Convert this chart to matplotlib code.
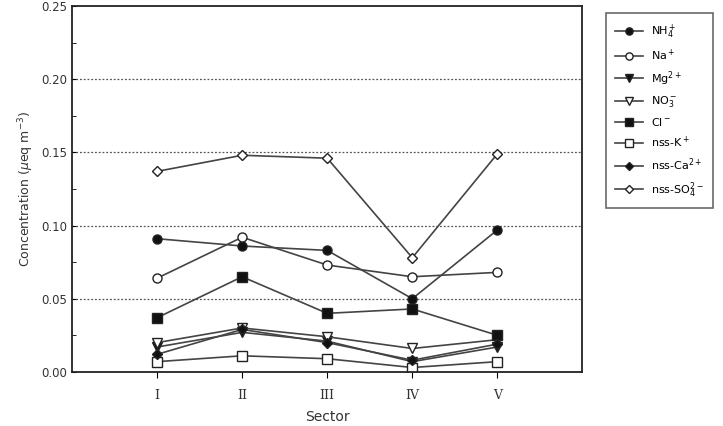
import matplotlib
matplotlib.use("Agg")
import matplotlib.pyplot as plt
from matplotlib.ticker import MultipleLocator

sectors = ["I", "II", "III", "IV", "V"]
nh4 = [0.091, 0.086, 0.083, 0.050, 0.097]
na = [0.064, 0.092, 0.073, 0.065, 0.068]
mg = [0.017, 0.027, 0.021, 0.007, 0.017]
no3 = [0.020, 0.030, 0.024, 0.016, 0.022]
cl = [0.037, 0.065, 0.040, 0.043, 0.025]
nss_k = [0.007, 0.011, 0.009, 0.003, 0.007]
nss_ca = [0.012, 0.029, 0.020, 0.008, 0.019]
nss_so4 = [0.137, 0.148, 0.146, 0.078, 0.149]

series = [
    (nh4, "o", "#111111", r"NH$_4^+$"),
    (na, "o", "white", r"Na$^+$"),
    (mg, "v", "#111111", r"Mg$^{2+}$"),
    (no3, "v", "white", r"NO$_3^-$"),
    (cl, "s", "#111111", r"Cl$^-$"),
    (nss_k, "s", "white", r"nss-K$^+$"),
    (nss_ca, "D", "#111111", r"nss-Ca$^{2+}$"),
    (nss_so4, "D", "white", r"nss-SO$_4^{2-}$"),
]

fig = plt.figure(figsize=(7.23, 4.26), dpi=100)
ax = fig.add_axes([0.0996, 0.127, 0.706, 0.859])
x = list(range(1, len(sectors) + 1))
for vals, m, fc, lab in series:
    ms = 5.5 if m == "D" else 6.5
    ax.plot(x, vals, marker=m, markerfacecolor=fc, markeredgecolor="#222222",
            color="#444444", lw=1.2, ms=ms, label=lab)

ax.set_xlim(0, 6)
ax.set_ylim(0, 0.25)
ax.set_xticks(x)
ax.set_xticklabels(sectors, family="DejaVu Serif", fontsize=9, color="#333333")
ax.yaxis.set_major_locator(MultipleLocator(0.05))
ax.yaxis.set_minor_locator(MultipleLocator(0.025))
ax.set_yticklabels(["%.2f" % v for v in ax.get_yticks()], fontsize=8.5, color="#333333")
ax.tick_params(axis="y", which="both", direction="in", length=3)
ax.tick_params(axis="x", direction="out", length=4, pad=8)
for y in [0.05, 0.10, 0.15, 0.20]:
    ax.axhline(y, color="#555555", ls=(0, (1.5, 1.5)), lw=0.9, zorder=0)
for s in ax.spines.values():
    s.set_linewidth(1.3)
    s.set_color("#222222")

ax.set_ylabel(r"Concentration ($\mu$eq m$^{-3}$)", fontsize=9, color="#333333")
ax.set_xlabel("Sector", fontsize=10, color="#333333", labelpad=6)

leg = ax.legend(loc="upper left", bbox_to_anchor=(1.035, 0.995), fontsize=8,
                frameon=True, fancybox=False, edgecolor="#444444",
                handlelength=2.5, labelspacing=0.6, borderpad=0.8,
                markerscale=0.8)
leg.get_frame().set_linewidth(1.2)

fig.savefig("out.png", dpi=100)
